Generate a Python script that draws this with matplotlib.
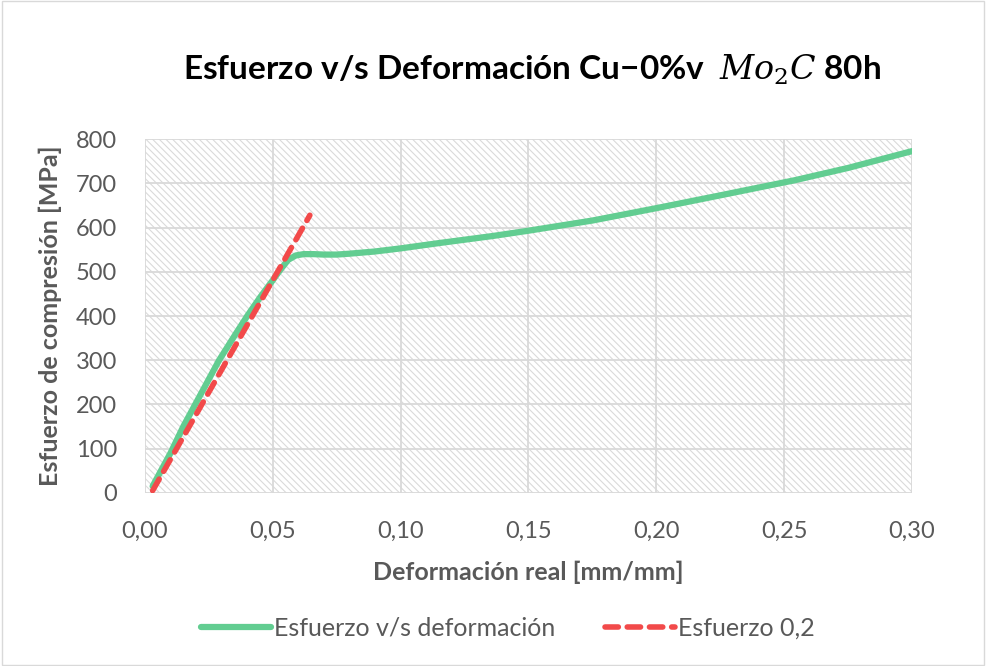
import numpy as np
import matplotlib.pyplot as plt
from matplotlib.patches import Rectangle

# data
strain = [0.003, 0.010, 0.015, 0.022, 0.029, 0.035, 0.040, 0.045, 0.050, 0.053,
          0.056, 0.059, 0.062, 0.066, 0.070, 0.075, 0.080, 0.090, 0.100, 0.115,
          0.136, 0.150, 0.175, 0.200, 0.225, 0.254, 0.275, 0.300]
stress = [15, 90, 150, 225, 300, 355, 400, 442, 481, 505,
          527, 537, 540, 540, 539, 539, 541, 546, 553, 565,
          581, 593, 616, 644, 673, 707, 735, 773]

offset_strain = [0.003, 0.0645]
offset_stress = [5, 628]

GREEN = '#62cd91'
RED = '#f24a4a'
GRAY = '#595959'

plt.rcParams['font.family'] = ['Lato', 'DejaVu Sans']
plt.rcParams['mathtext.fontset'] = 'dejavuserif'
plt.rcParams['hatch.color'] = '#dadada'
plt.rcParams['hatch.linewidth'] = 0.8

fig = plt.figure(figsize=(9.86, 6.66), dpi=100)
fig.patches.append(Rectangle((0.002, 0.002), 0.996, 0.996, transform=fig.transFigure,
                             fill=False, edgecolor='#d9d9d9', linewidth=1))
ax = fig.add_axes([0.147, 0.26, 0.778, 0.531])

ax.add_patch(Rectangle((0, 0), 1, 1, transform=ax.transAxes, facecolor='white',
                       edgecolor='#dadada', hatch='\\' * 5, linewidth=0, zorder=0))

ax.plot(strain, stress, color=GREEN, linewidth=4.5, solid_capstyle='round',
        label='Esfuerzo v/s deformación', zorder=3)
ax.plot(offset_strain, offset_stress, color=RED, linewidth=4, linestyle=(0, (2.4, 1.6)),
        dash_capstyle='round', label='Esfuerzo 0,2', zorder=4)

ax.set_xlim(0, 0.30)
ax.set_ylim(0, 800)
ax.set_xticks(np.arange(0, 0.301, 0.05))
ax.set_xticklabels([f'{v:.2f}'.replace('.', ',') for v in np.arange(0, 0.301, 0.05)])
ax.set_yticks(np.arange(0, 801, 100))
ax.grid(True, color='#d9d9d9', linewidth=1.3, zorder=1)
ax.set_axisbelow(True)
for s in ax.spines.values():
    s.set_visible(False)
ax.tick_params(length=0, labelsize=17, colors=GRAY)
ax.tick_params(axis='x', pad=20)
ax.tick_params(axis='y', pad=20)

ax.set_xlabel('Deformación real [mm/mm]', fontsize=18, fontweight='bold', color=GRAY, labelpad=14)
ax.set_ylabel('Esfuerzo de compresión [MPa]', fontsize=18, fontweight='bold', color=GRAY, labelpad=10)

fig.text(0.54, 0.895, r'Esfuerzo v/s Deformación Cu−0%v  $Mo_2C$ 80h', ha='center', va='center',
         fontsize=24, fontweight='bold', color='black')

fig.legend(loc='center', bbox_to_anchor=(0.515, 0.057), ncol=2, frameon=False, fontsize=18,
           labelcolor=GRAY, handlelength=2.8, handletextpad=0.1, columnspacing=2)

fig.savefig('out.png', dpi=100)
